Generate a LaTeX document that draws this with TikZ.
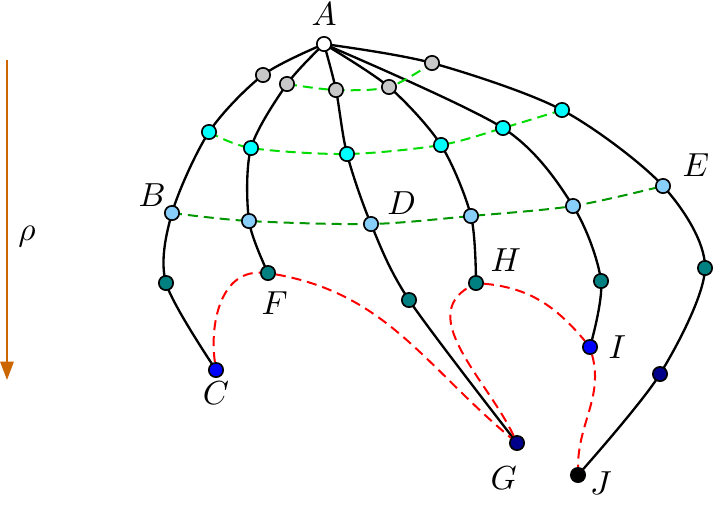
\documentclass[tikz,border=0pt]{standalone}
\usetikzlibrary{positioning,arrows.meta,backgrounds}
\definecolor{graydot}{RGB}{200,200,200}
\definecolor{cyandot}{RGB}{0,255,255}
\definecolor{skydot}{RGB}{135,206,250}
\definecolor{tealdot}{RGB}{0,128,128}
\definecolor{bluedot}{RGB}{0,0,255}
\definecolor{navydot}{RGB}{0,0,139}
\definecolor{brightgreen}{RGB}{0,220,0}
\definecolor{darkgreen}{RGB}{0,150,0}
\definecolor{rhocolor}{RGB}{204,102,0}

\begin{document}
\begin{tikzpicture}[
    x=0.3pt, y=-0.3pt,
    dot/.style={circle, draw=black, line width=0.5pt, fill=#1, inner sep=0pt, minimum size=4.3pt},
    lbl/.style={inner sep=1pt},
    branch/.style={line width=0.7pt},
    greenline/.style={line width=0.6pt, dash pattern=on 3pt off 1.8pt, draw=#1},
    redline/.style={line width=0.6pt, dash pattern=on 3pt off 1.8pt, draw=red},
    rhoarrow/.style={draw=rhocolor, line width=0.6pt, -{Triangle[width=4pt,length=5.5pt]}}
]
\useasboundingbox (0,0) rectangle (713,504);

% Apex
\node[dot=white] (A) at (324,44) {};

% First ring
\node[dot=graydot] (gr1) at (263,75) {};
\node[dot=graydot] (gr2) at (287,84) {};
\node[dot=graydot] (gr3) at (336,90) {};
\node[dot=graydot] (gr4) at (389,87) {};
\node[dot=graydot] (gr5) at (432,63) {};

% Second ring
\node[dot=cyandot] (cy1) at (209,132) {};
\node[dot=cyandot] (cy2) at (251,148) {};
\node[dot=cyandot] (cy3) at (347,154) {};
\node[dot=cyandot] (cy4) at (441,145) {};
\node[dot=cyandot] (cy5) at (503,128) {};
\node[dot=cyandot] (cy6) at (562,110) {};

% Third ring
\node[dot=skydot] (B) at (172,213) {};
\node[dot=skydot] (lb2) at (249,221) {};
\node[dot=skydot] (D) at (371,224) {};
\node[dot=skydot] (lb4) at (471,216) {};
\node[dot=skydot] (lb5) at (573,206) {};
\node[dot=skydot] (E) at (663,186) {};

% Fourth ring
\node[dot=tealdot] (te1) at (166,283) {};
\node[dot=tealdot] (F) at (268,273) {};
\node[dot=tealdot] (te3) at (409,300) {};
\node[dot=tealdot] (H) at (476,283) {};
\node[dot=tealdot] (te5) at (601,281) {};
\node[dot=tealdot] (te6) at (705,268) {};

% Ends
\node[dot=bluedot] (C) at (216,370) {};
\node[dot=navydot] (G) at (517,443) {};
\node[dot=bluedot] (I) at (590,347) {};
\node[dot=navydot] (dk6) at (660,374) {};
\node[dot=black] (J) at (578,475) {};

% Labels
\node[lbl, above=2pt of A] (labA) {$A$};
\node[lbl, above left=-1pt and -1pt of B] (labB) {$B$};
\node[lbl, below=0pt of C] (labC) {$C$};
\node[lbl, above right=0pt and 2pt of D] (labD) {$D$};
\node[lbl, above right=0pt and 3pt of E] (labE) {$E$};
\node[lbl, below=2pt of F, xshift=2pt] (labF) {$F$};
\node[lbl, below=3.6pt of G, xshift=-4pt] (labG) {$G$};
\node[lbl, above right=0.5pt and 1.5pt of H] (labH) {$H$};
\node[lbl, right=2pt of I] (labI) {$I$};
\node[lbl, right=0pt of J, yshift=-2.5pt] (labJ) {$J$};

% Depth arrow
\coordinate (rtop) at (7,60);
\coordinate (rbot) at (7,380);
\node (rho) at (27,237) {$\rho$};

\begin{scope}[on background layer]
% Branches from the apex
\draw[branch] plot[smooth] coordinates {(A.center) (gr1.center) (cy1.center) (B.center) (te1.center) (C.center)};
\draw[branch] plot[smooth] coordinates {(A.center) (gr2.center) (cy2.center) (lb2.center) (F.center)};
\draw[branch] plot[smooth] coordinates {(A.center) (gr3.center) (cy3.center) (D.center) (te3.center) (G.center)};
\draw[branch] plot[smooth] coordinates {(A.center) (gr4.center) (cy4.center) (lb4.center) (H.center)};
\draw[branch] plot[smooth] coordinates {(A.center) (cy5.center) (lb5.center) (te5.center) (I.center)};
\draw[branch] plot[smooth] coordinates {(A.center) (gr5.center) (cy6.center) (E.center) (te6.center) (dk6.center) (J.center)};

% Rings
\draw[greenline=brightgreen] plot[smooth] coordinates {(gr2.center) (gr3.center) (gr4.center) (gr5.center)};
\draw[greenline=brightgreen] plot[smooth] coordinates {(cy1.center) (cy2.center) (cy3.center) (cy4.center) (cy5.center) (cy6.center)};
\draw[greenline=darkgreen] plot[smooth] coordinates {(B.center) (lb2.center) (D.center) (lb4.center) (lb5.center) (E.center)};

% Paths
\draw[redline] (C) to[out=98,in=178] (F) to[out=-10,in=140] (G);
\draw[redline] (G) to[out=115,in=210] (H) to[out=-5,in=130] (I) to[out=-75,in=90] (J);
\end{scope}

\draw[rhoarrow] (rtop) -- (rbot);
\end{tikzpicture}
\end{document}
